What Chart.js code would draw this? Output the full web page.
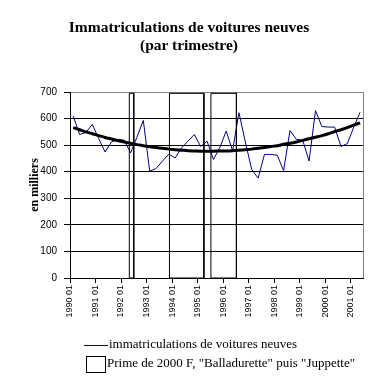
<!DOCTYPE html>
<html lang="fr">
<head>
    <meta charset="UTF-8">
    <title>Immatriculations de voitures neuves</title>
    <script src="https://cdn.jsdelivr.net/npm/chart.js"></script>
    <style>
        body { margin: 0; background: #fff; }
        #wrap { position: relative; width: 378px; height: 389px; }
        #title {
            position: absolute; left: 0; top: 18px; width: 378px;
            text-align: center; font: bold 15.5px/18px "Liberation Serif", serif; color: #000;
        }
        .legend-row {
            position: absolute; left: 84px; height: 17px;
            font: 13px/15px "Liberation Serif", serif; color: #000; white-space: nowrap;
        }
        .legend-line {
            position: absolute; left: 0; top: 9px; width: 24px; height: 1px; background: #000080;
        }
        .legend-box {
            position: absolute; left: 2px; top: 1px; width: 18px; height: 15px;
            border: 1px solid #000; background: #fff;
        }
        .legend-text { position: absolute; top: 0; }
    </style>
</head>
<body>
<div id="wrap">
    <canvas id="carChart" width="378" height="389"></canvas>
    <div id="title">Immatriculations de voitures neuves<br>(par trimestre)</div>
    <div class="legend-row" style="top:336px">
        <span class="legend-line"></span>
        <span class="legend-text" style="left:25px">immatriculations de voitures neuves</span>
    </div>
    <div class="legend-row" style="top:355px">
        <span class="legend-box"></span>
        <span class="legend-text" style="left:23px">Prime de 2000 F, "Balladurette" puis "Juppette"</span>
    </div>
</div>

<script>
    // quarterly data, 1990 Q1 .. 2001 Q2 (thousands)
    const tickLabels = ['1990 01', '1991 01', '1992 01', '1993 01', '1994 01', '1995 01',
                        '1996 01', '1997 01', '1998 01', '1999 01', '2000 01', '2001 01'];
    const registrations = [610, 540, 548, 578, 525, 474, 512, 522, 519, 471, 530, 593,
                           402, 412, 440, 466, 452, 490, 515, 540, 495, 515, 446, 491,
                           553, 479, 622, 512, 408, 376, 465, 465, 462, 404, 555, 522,
                           518, 440, 630, 570, 568, 568, 495, 506, 568, 624];
    const trend = [566, 558, 550, 543, 536, 529, 523, 517, 512, 507, 502, 498,
                   494, 491, 488, 485, 483, 481, 479, 478, 477, 477, 477, 478,
                   478, 479, 481, 483, 485, 488, 491, 495, 498, 503, 507, 512,
                   518, 524, 530, 536, 543, 551, 558, 566, 575, 584];
    // bonus periods, in quarters counted from 1990 Q1
    const primeStart = [9.3, 15.6, 22.1];
    const primeEnd = [10.0, 21.0, 26.1];
    const primeHeight = 695;

    const canvas = document.getElementById('carChart');
    const ctx = canvas.getContext('2d');

    // 50% white halftone, like the old spreadsheet fill
    const tile = document.createElement('canvas');
    tile.width = 2; tile.height = 2;
    const tctx = tile.getContext('2d');
    tctx.fillStyle = '#fff';
    tctx.fillRect(0, 0, 1, 1);
    tctx.fillRect(1, 1, 1, 1);
    const halftone = ctx.createPattern(tile, 'repeat');

    const toPoints = arr => arr.map((v, i) => ({ x: i + 0.5, y: v }));

    const primeSets = primeStart.map((s, k) => ({
        label: 'Prime',
        data: [
            { x: s, y: 0 }, { x: s, y: primeHeight },
            { x: primeEnd[k], y: primeHeight }, { x: primeEnd[k], y: 0 }, { x: s, y: 0 }
        ],
        borderColor: '#000',
        borderWidth: 1,
        backgroundColor: halftone,
        fill: 'origin',
        pointRadius: 0,
        tension: 0,
        order: 0
    }));

    const rightFrame = {
        id: 'rightFrame',
        afterDraw(chart) {
            const a = chart.chartArea;
            const x = Math.round(a.right) + 0.5;
            ctx.save();
            ctx.strokeStyle = '#808080';
            ctx.lineWidth = 1;
            ctx.beginPath();
            ctx.moveTo(x, Math.round(a.top));
            ctx.lineTo(x, Math.round(a.bottom));
            ctx.stroke();
            ctx.restore();
        }
    };

    new Chart(ctx, {
        type: 'line',
        data: {
            datasets: [
                {
                    label: 'immatriculations de voitures neuves',
                    data: toPoints(registrations),
                    borderColor: '#000080',
                    borderWidth: 1,
                    pointRadius: 0,
                    tension: 0,
                    order: 2
                },
                {
                    label: 'tendance',
                    data: toPoints(trend),
                    borderColor: '#000',
                    borderWidth: 3,
                    pointRadius: 0,
                    tension: 0.3,
                    order: 1
                },
                ...primeSets
            ]
        },
        options: {
            responsive: false,
            animation: false,
            events: [],
            layout: { padding: { top: 92, right: 14.7, bottom: 51, left: 0 } },
            plugins: {
                legend: { display: false },
                title: { display: false },
                tooltip: { enabled: false }
            },
            scales: {
                x: {
                    type: 'linear',
                    min: 0,
                    max: registrations.length,
                    afterBuildTicks: scale => {
                        scale.ticks = scale.ticks.filter(t => t.value % 4 === 0 && t.value / 4 < tickLabels.length);
                    },
                    afterFit: scale => { scale.height = 60; },
                    ticks: {
                        stepSize: 4,
                        minRotation: 90,
                        maxRotation: 90,
                        autoSkip: false,
                        padding: 2,
                        color: '#000',
                        font: { family: 'Liberation Sans', size: 9 },
                        callback: v => tickLabels[v / 4]
                    },
                    grid: {
                        drawOnChartArea: false,
                        drawTicks: true,
                        tickLength: 5,
                        tickColor: '#000'
                    },
                    border: { color: '#000', width: 1 }
                },
                y: {
                    min: 0,
                    max: 700,
                    afterFit: scale => { scale.width = 70; },
                    ticks: {
                        stepSize: 100,
                        padding: 7,
                        color: '#000',
                        font: { family: 'Liberation Sans', size: 10 }
                    },
                    grid: {
                        color: c => (c.tick && c.tick.value === 700 ? '#808080' : '#000'),
                        tickColor: '#000',
                        tickLength: 6,
                        lineWidth: 1
                    },
                    border: { color: '#000', width: 1 },
                    title: {
                        display: true,
                        text: 'en milliers',
                        color: '#000',
                        padding: { top: 28, bottom: 0 },
                        font: { family: 'Liberation Serif', size: 12, weight: 'bold' }
                    }
                }
            }
        },
        plugins: [rightFrame]
    });
</script>
</body>
</html>
